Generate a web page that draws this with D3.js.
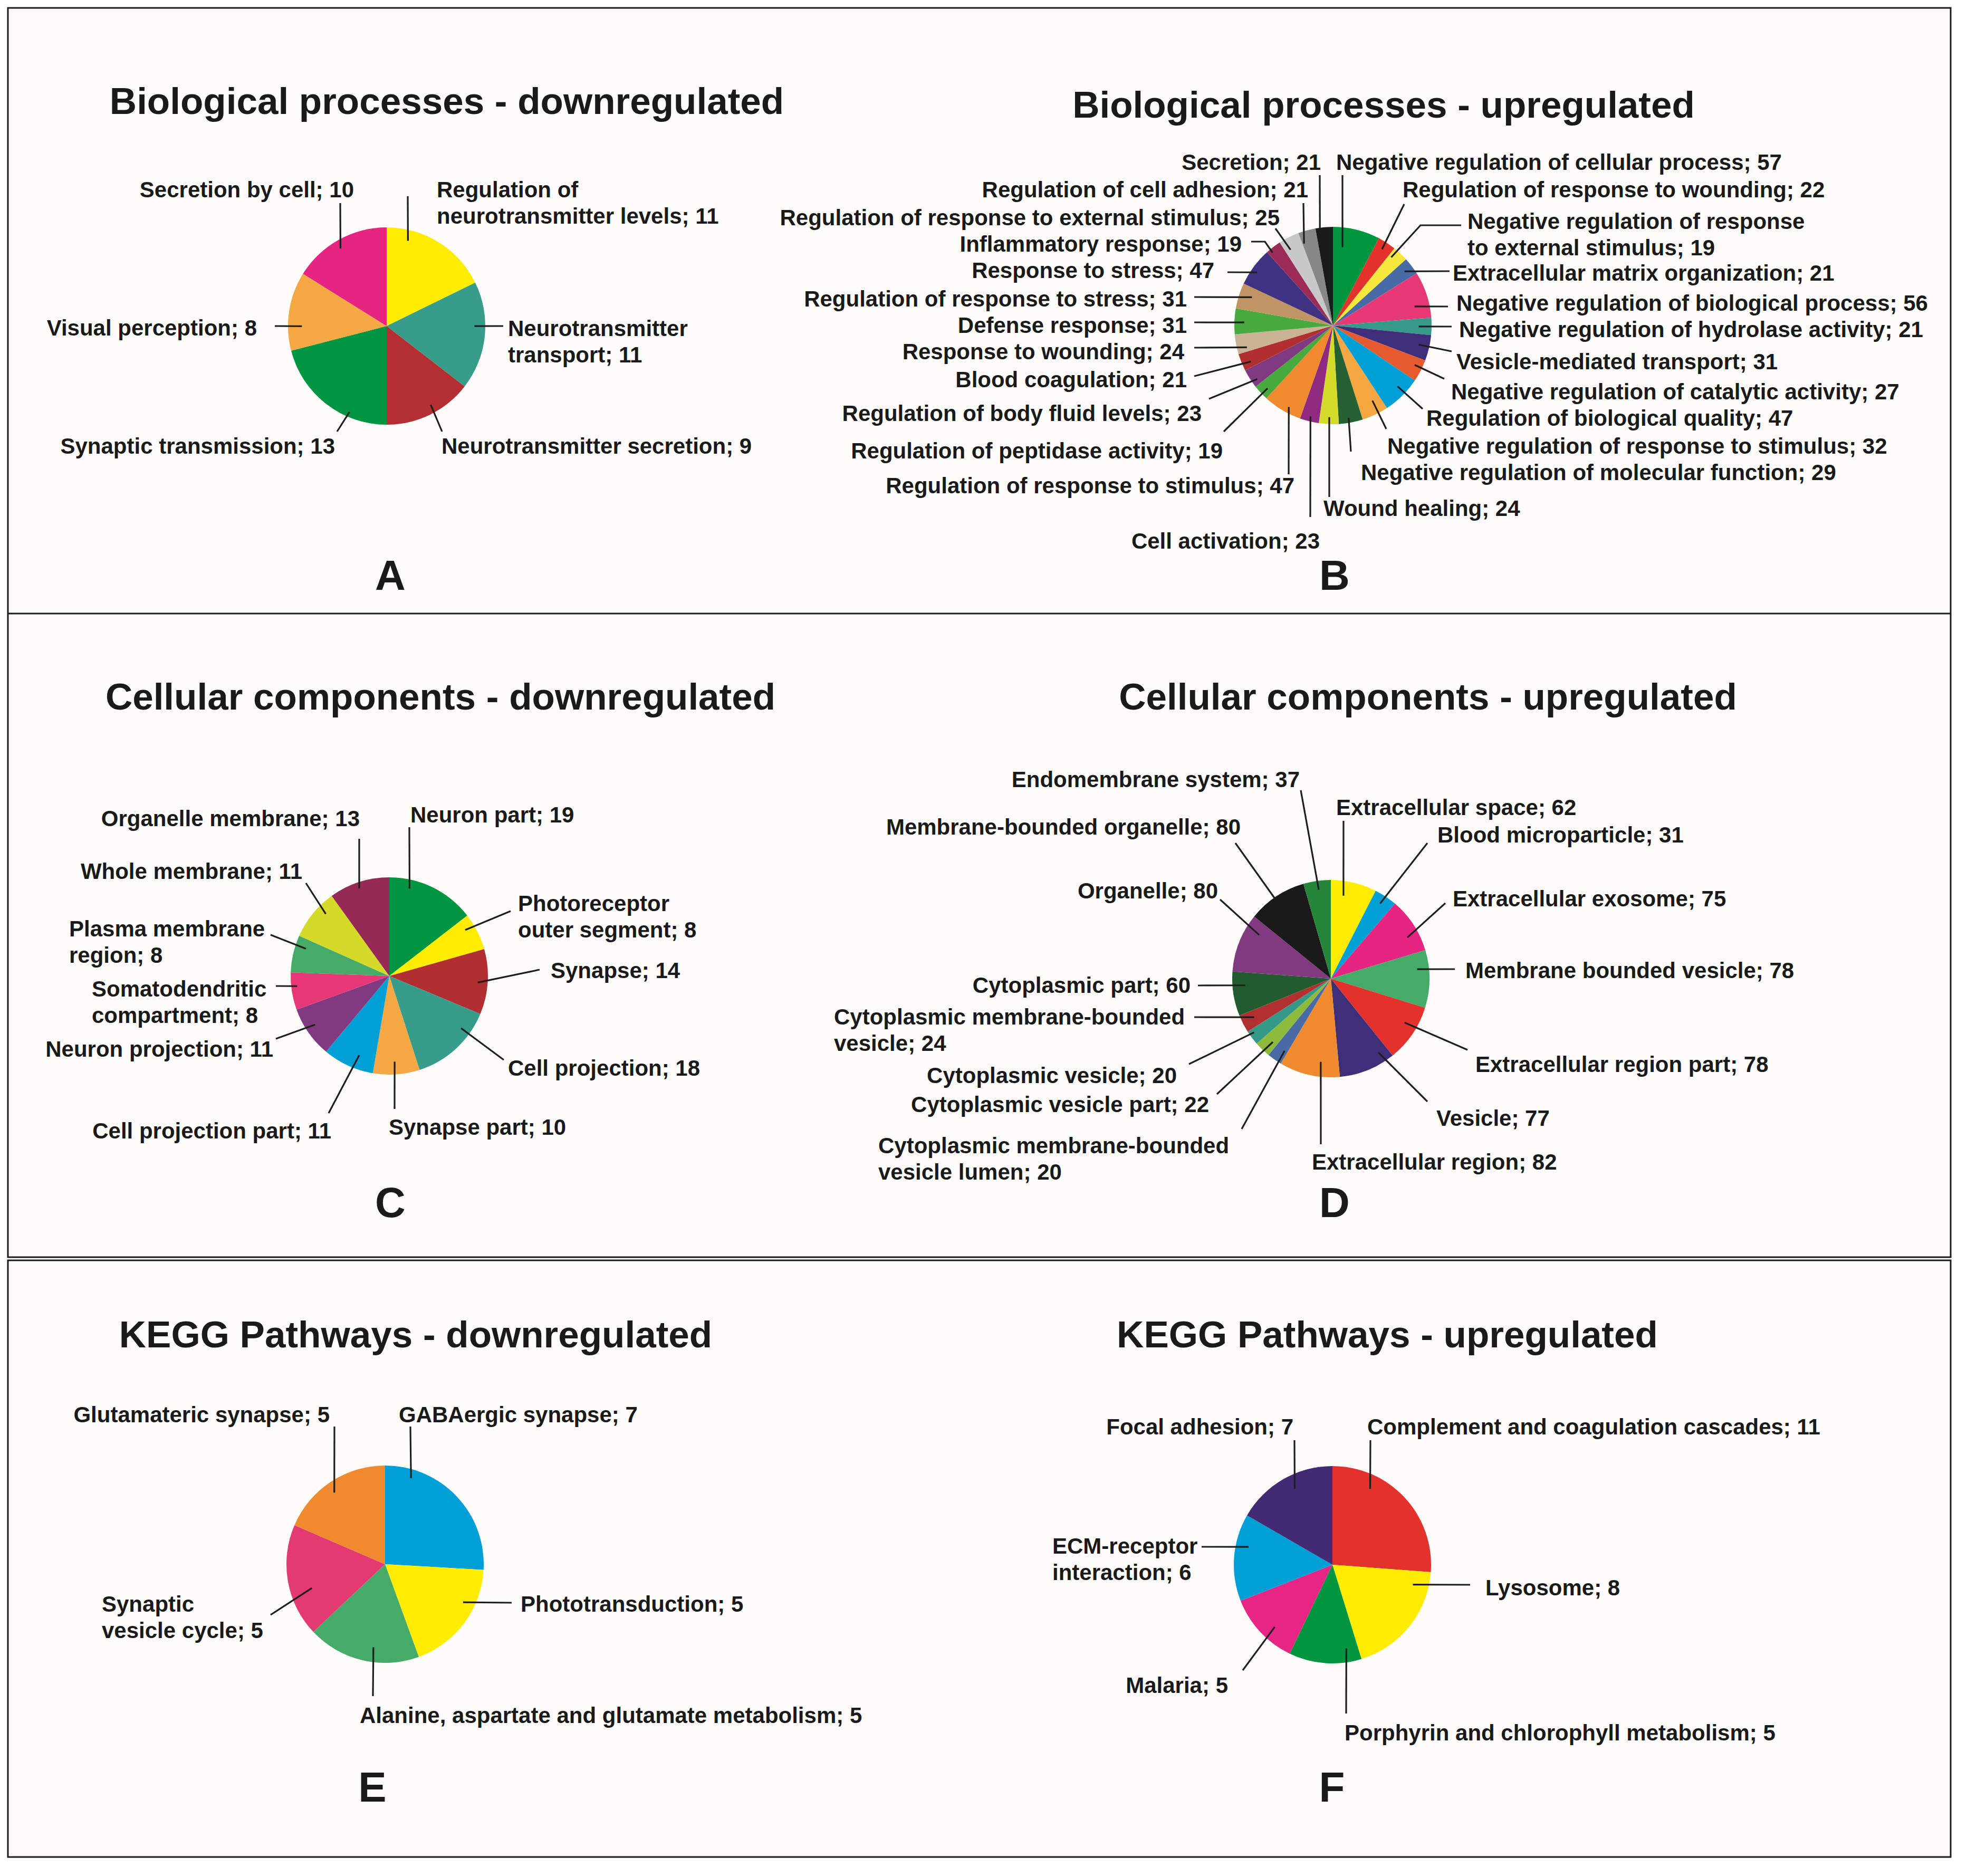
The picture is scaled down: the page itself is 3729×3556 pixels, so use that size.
<!DOCTYPE html>
<html><head><meta charset="utf-8">
<script src="https://cdn.jsdelivr.net/npm/d3@7"></script>
<style>
body{margin:0;background:#ffffff}
svg{display:block}
text{font-family:"Liberation Sans",Arial,Helvetica,sans-serif;font-weight:bold;fill:#1a1a1a}
</style>
</head><body>
<svg id="chart" width="3729" height="3556"></svg>
<script>
// ---------------- DATA ----------------
const bpDownCategories = ["Regulation of neurotransmitter levels","Neurotransmitter transport","Neurotransmitter secretion","Synaptic transmission","Visual perception","Secretion by cell"];
const bpDownValues = [11,11,9,13,8,10];

const bpUpCategories = ["Negative regulation of cellular process","Regulation of response to wounding","Negative regulation of response to external stimulus","Extracellular matrix organization","Negative regulation of biological process","Negative regulation of hydrolase activity","Vesicle-mediated transport","Negative regulation of catalytic activity","Regulation of biological quality","Negative regulation of response to stimulus","Negative regulation of molecular function","Wound healing","Cell activation","Regulation of response to stimulus","Regulation of peptidase activity","Regulation of body fluid levels","Blood coagulation","Response to wounding","Defense response","Regulation of response to stress","Response to stress","Inflammatory response","Regulation of response to external stimulus","Regulation of cell adhesion","Secretion"];
const bpUpValues = [57,22,19,21,56,21,31,27,47,32,29,24,23,47,19,23,21,24,31,31,47,19,25,21,21];

const ccDownCategories = ["Neuron part","Photoreceptor outer segment","Synapse","Cell projection","Synapse part","Cell projection part","Neuron projection","Somatodendritic compartment","Plasma membrane region","Whole membrane","Organelle membrane"];
const ccDownValues = [19,8,14,18,10,11,11,8,8,11,13];

const ccUpCategories = ["Extracellular space","Blood microparticle","Extracellular exosome","Membrane bounded vesicle","Extracellular region part","Vesicle","Extracellular region","Cytoplasmic membrane-bounded vesicle lumen","Cytoplasmic vesicle part","Cytoplasmic vesicle","Cytoplasmic membrane-bounded vesicle","Cytoplasmic part","Organelle","Membrane-bounded organelle","Endomembrane system"];
const ccUpValues = [62,31,75,78,78,77,82,20,22,20,24,60,80,80,37];

const keggDownCategories = ["GABAergic synapse","Phototransduction","Alanine, aspartate and glutamate metabolism","Synaptic vesicle cycle","Glutamateric synapse"];
const keggDownValues = [7,5,5,5,5];

const keggUpCategories = ["Complement and coagulation cascades","Lysosome","Porphyrin and chlorophyll metabolism","Malaria","ECM-receptor interaction","Focal adhesion"];
const keggUpValues = [11,8,5,5,6,7];

const panelTitles = ["Biological processes - downregulated","Biological processes - upregulated","Cellular components - downregulated","Cellular components - upregulated","KEGG Pathways - downregulated","KEGG Pathways - upregulated"];
const panelLetters = ["A","B","C","D","E","F"];

// ---------------- STYLE ----------------
const colA = ["#FFED00","#389C8A","#B32F31","#009540","#F5A843","#E52581"];
const colB = ["#00963F","#E3312B","#F6E73C","#466BA6","#E53875","#36998A","#3F2F7A","#E65A30","#00A0D6","#F5A742","#256131","#D5DB2A","#8F2A80","#F08A2E","#48A93D","#803A82","#B22F31","#C9B394","#48A93D","#C09465","#3F3281","#9A2C57","#C8C8C8","#878787","#1A1A1A"];
const colC = ["#009540","#FFED00","#B22F31","#389C8A","#F5A843","#00A0D6","#813A80","#E53875","#46AA68","#D4D92A","#952B55"];
const colD = ["#FFED00","#00A0D6","#E52581","#46AA68","#E2322B","#3F2F78","#F08A2E","#4A6AA5","#8DBA3A","#35998A","#B2302F","#235B31","#813A80","#1A1A1A","#268638"];
const colE = ["#009FD6","#FFED00","#46AA68","#E43A72","#EF8A2E"];
const colF = ["#E2322B","#FFED00","#00953F","#E62584","#009FD6","#432A75"];

// ---------------- LAYOUT (label placement) ----------------
const R = 187;
const LABEL_DY = 3;
const layA = [
 {brk:2,x:828,y:371,a:"start",f:.22,k:.89,pts:[[773,372]]},
 {brk:1,x:963,y:634,a:"start",f:.41,k:.89,pts:[[954,618]]},
 {x:837,y:857,a:"start",f:.44,k:.915,pts:[[838,818]]},
 {x:635,y:857,a:"end",f:.31,k:.95,pts:[[639,818]]},
 {x:487,y:633,a:"end",f:.31,k:.86,pts:[[521,618]]},
 {x:671,y:371,a:"end",f:.47,k:.915,pts:[[645,385]]}
];
const layB = [
 {x:2533,y:319,a:"start",f:.25,k:.8,pts:[[2545,332]]},
 {x:2659,y:371,a:"start",f:.46,k:.92,pts:[[2662,387]]},
 {brk:4,x:2782,y:431,a:"start",f:.21,k:.91,pts:[[2693,427],[2770,427]]},
 {x:2754,y:529,a:"start",f:.5,k:.91,pts:[[2748,514]]},
 {x:2761,y:586,a:"start",f:.69,k:.85,pts:[[2745,581]]},
 {x:2766,y:636,a:"start",f:.52,k:.87,pts:[[2752,619]]},
 {x:2761,y:697,a:"start",f:.46,k:.89,pts:[[2752,666]]},
 {x:2751,y:754,a:"start",f:.38,k:.92,pts:[[2738,718]]},
 {x:2704,y:804,a:"start",f:.41,k:.9,pts:[[2697,775]]},
 {x:2630,y:857,a:"start",f:.35,k:.86,pts:[[2628,813]]},
 {x:2580,y:907,a:"start",f:.56,k:.95,pts:[[2561,856]]},
 {x:2509,y:975,a:"start",f:.49,k:.93,pts:[[2520,942]]},
 {x:2502,y:1037,a:"end",f:.5,k:.95,pts:[[2484,980]]},
 {x:2454,y:932,a:"end",f:.39,k:.94,pts:[[2443,899]]},
 {x:2318,y:866,a:"end",f:.4,k:.92,pts:[[2320,818]]},
 {x:2278,y:795,a:"end",f:.27,k:.94,pts:[[2292,756]]},
 {x:2250,y:731,a:"end",f:.33,k:.91,pts:[[2264,713]]},
 {x:2245,y:678,a:"end",f:.22,k:.9,pts:[[2264,659]]},
 {x:2250,y:628,a:"end",f:.47,k:.9,pts:[[2264,611]]},
 {x:2250,y:578,a:"end",f:.61,k:.87,pts:[[2264,563]]},
 {x:2302,y:524,a:"end",f:.43,k:.94,pts:[[2327,516]]},
 {x:2354,y:474,a:"end",f:.25,k:.96,pts:[[2398,458],[2372,458]]},
 {x:2426,y:424,a:"end",f:.28,k:.88,pts:[[2418,433]]},
 {x:2480,y:371,a:"end",f:.1,k:.88,pts:[[2471,385]]},
 {x:2504,y:319,a:"end",f:.25,k:.99,pts:[[2502,332]]}
];
const layC = [
 {x:778,y:1556,a:"start",f:.25,k:.91,pts:[[776,1568]]},
 {brk:1,x:982,y:1724,a:"start",f:.3,k:.9,pts:[[968,1727]]},
 {x:1044,y:1851,a:"start",f:.52,k:.9,pts:[[1023,1838]]},
 {x:963,y:2036,a:"start",f:.27,k:.9,pts:[[955,2009]]},
 {x:737,y:2148,a:"start",f:.52,k:.87,pts:[[748,2102]]},
 {x:628,y:2155,a:"end",f:.37,k:.86,pts:[[623,2110]]},
 {x:518,y:2000,a:"end",f:.56,k:.9,pts:[[523,1969]]},
 {brk:1,x:174,y:1886,a:"start",f:.62,k:.94,pts:[[523,1869]]},
 {brk:2,x:131,y:1772,a:"start",f:.73,k:.89,pts:[[513,1772]]},
 {x:573,y:1663,a:"end",f:.67,k:.9,pts:[[580,1674]]},
 {x:682,y:1563,a:"end",f:.47,k:.94,pts:[[681,1590]]}
];
const layD = [
 {x:2533,y:1542,a:"start",f:.32,k:.85,pts:[[2547,1556]]},
 {x:2725,y:1594,a:"start",f:.46,k:.91,pts:[[2706,1598]]},
 {x:2754,y:1715,a:"start",f:.65,k:.88,pts:[[2740,1712]]},
 {x:2778,y:1851,a:"start",f:.31,k:.88,pts:[[2758,1837]]},
 {x:2797,y:2029,a:"start",f:.4,k:.87,pts:[[2782,1990]]},
 {x:2723,y:2131,a:"start",f:.18,k:.89,pts:[[2706,2088]]},
 {x:2487,y:2214,a:"start",f:.34,k:.85,pts:[[2504,2169]]},
 {brk:2,x:1665,y:2183,a:"start",f:.25,k:.87,pts:[[2354,2140]]},
 {x:2292,y:2105,a:"end",f:.34,k:.87,pts:[[2307,2074]]},
 {x:2231,y:2050,a:"end",f:.71,k:.95,pts:[[2254,2017]]},
 {brk:2,x:1581,y:1939,a:"start",f:.55,k:.87,pts:[[2264,1928]]},
 {x:2257,y:1879,a:"end",f:.67,k:.87,pts:[[2271,1868]]},
 {x:2309,y:1700,a:"end",f:.78,k:.85,pts:[[2313,1705]]},
 {x:2352,y:1579,a:"end",f:.46,k:.99,pts:[[2342,1598]]},
 {x:2464,y:1489,a:"end",f:.52,k:.91,pts:[[2466,1498]]}
];
const layE = [
 {x:756,y:2693,a:"start",f:.18,k:.91,pts:[[778,2704]]},
 {x:987,y:3052,a:"start",f:.34,k:.88,pts:[[970,3038]]},
 {x:682,y:3263,a:"start",f:.42,k:.85,pts:[[707,3215]]},
 {brk:1,x:193,y:3052,a:"start",f:.38,k:.78,pts:[[513,3061]]},
 {x:625,y:2693,a:"end",f:.47,k:.89,pts:[[634,2704]]}
];
const layF = [
 {x:2592,y:2716,a:"start",f:.28,k:.86,pts:[[2598,2730]]},
 {x:2816,y:3021,a:"start",f:.14,k:.84,pts:[[2787,3004]]},
 {x:2549,y:3296,a:"start",f:.18,k:.86,pts:[[2552,3248]]},
 {x:2328,y:3206,a:"end",f:.4,k:.86,pts:[[2356,3166]]},
 {brk:1,x:1995,y:2942,a:"start",f:.65,k:.87,pts:[[2278,2932]]},
 {x:2452,y:2716,a:"end",f:.56,k:.86,pts:[[2454,2730]]}
];

const panels = [
 {cats:bpDownCategories, vals:bpDownValues, cols:colA, lay:layA, cx:733, cy:618, tx:847, ty:216, lx:740, ly:1118},
 {cats:bpUpCategories, vals:bpUpValues, cols:colB, lay:layB, cx:2527, cy:617, tx:2623, ty:223, lx:2530, ly:1118},
 {cats:ccDownCategories, vals:ccDownValues, cols:colC, lay:layC, cx:738, cy:1850, tx:835, ty:1345, lx:740, ly:2307},
 {cats:ccUpCategories, vals:ccUpValues, cols:colD, lay:layD, cx:2523, cy:1855, tx:2707, ty:1345, lx:2530, ly:2307},
 {cats:keggDownCategories, vals:keggDownValues, cols:colE, lay:layE, cx:730, cy:2965, tx:788, ty:2554, lx:706, ly:3415},
 {cats:keggUpCategories, vals:keggUpValues, cols:colF, lay:layF, cx:2526, cy:2966, tx:2630, ty:2554, lx:2525, ly:3415}
];

// ---------------- DRAW ----------------
const svg = d3.select("#chart");
svg.append("rect").attr("width",3729).attr("height",3556).attr("fill","#ffffff");
// frames
const frame = svg.append("g").attr("fill","#fdfcfa").attr("stroke","#1a1a1a").attr("stroke-width",3);
frame.append("rect").attr("x",15).attr("y",15).attr("width",3683).attr("height",2368);
frame.append("rect").attr("x",15).attr("y",2389).attr("width",3683).attr("height",1131);
svg.append("line").attr("x1",15).attr("x2",3698).attr("y1",1163).attr("y2",1163).attr("stroke","#1a1a1a").attr("stroke-width",3);

const pie = d3.pie().sort(null).value(d => d);
const arc = d3.arc().innerRadius(0).outerRadius(R);
const lineGen = d3.line();

panels.forEach((p, pi) => {
  const g = svg.append("g");
  const arcs = pie(p.vals);
  const pg = g.append("g").attr("transform", `translate(${p.cx},${p.cy})`);
  pg.selectAll("path").data(arcs).join("path")
    .attr("d", arc)
    .attr("fill", (d,i) => p.cols[i]);

  // leaders + labels
  p.lay.forEach((L, i) => {
    const s = arcs[i];
    const ang = s.startAngle + L.f * (s.endAngle - s.startAngle);
    const rr = L.k * R;
    const c = d3.arc().innerRadius(rr).outerRadius(rr).startAngle(ang).endAngle(ang).centroid();
    const pts = [[p.cx + c[0], p.cy + c[1]]].concat(L.pts);
    g.append("path").attr("d", lineGen(pts)).attr("fill","none")
      .attr("stroke","#1e1e1e").attr("stroke-width",3.2);
    const label = `${p.cats[i]}; ${p.vals[i]}`;
    let lines = [label];
    if (L.brk) {
      const w = label.split(" ");
      lines = [w.slice(0, L.brk).join(" "), w.slice(L.brk).join(" ")];
    }
    const t = g.append("text").attr("x", L.x).attr("y", L.y + LABEL_DY)
      .attr("text-anchor", L.a).attr("font-size", 42);
    lines.forEach((ln, j) => {
      t.append("tspan").attr("x", L.x).attr("dy", j === 0 ? 0 : 50).text(ln);
    });
  });

  g.append("text").attr("x", p.tx).attr("y", p.ty).attr("text-anchor","middle")
    .attr("font-size", 71).text(panelTitles[pi]);
  g.append("text").attr("x", p.lx).attr("y", p.ly).attr("text-anchor","middle")
    .attr("font-size", 80).text(panelLetters[pi]);
});
</script>
</body></html>
